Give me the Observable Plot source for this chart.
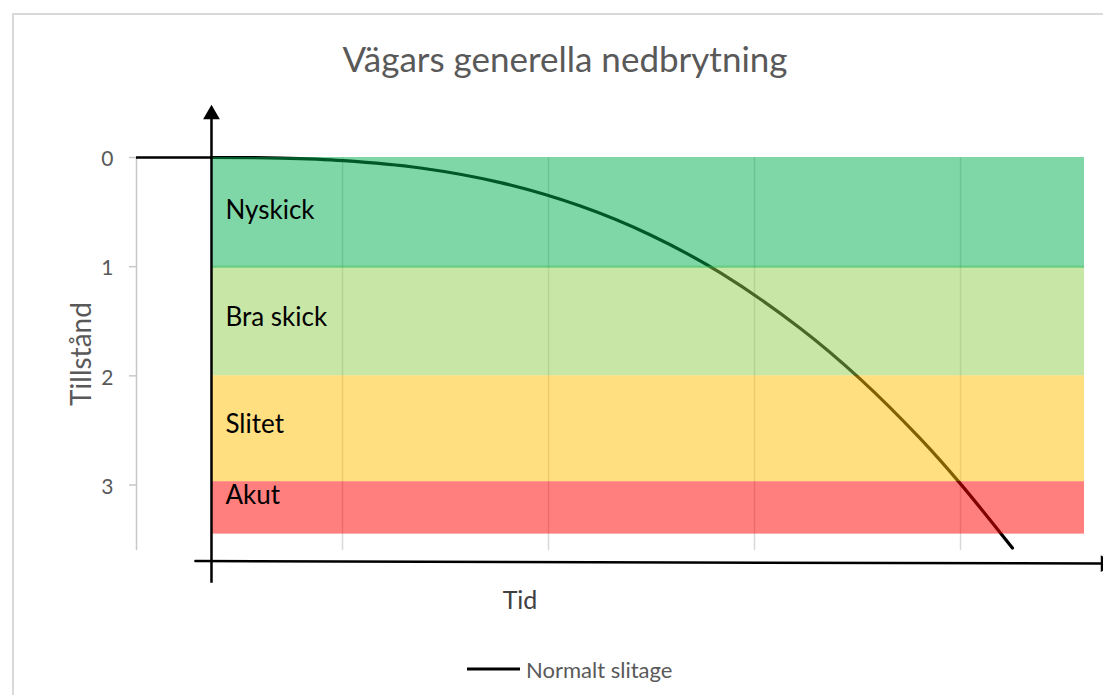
<!DOCTYPE html>
<html>
<head>
<meta charset="utf-8">
<script src="https://cdn.jsdelivr.net/npm/d3@7"></script>
<script src="https://cdn.jsdelivr.net/npm/@observablehq/plot@0.6"></script>
<style>
  html, body { margin: 0; padding: 0; background: #fff; overflow: hidden; }
  #wrap { position: relative; width: 1103px; height: 695px; overflow: hidden; font-family: Lato, "Open Sans", sans-serif; }
  #frame { position: absolute; left: 12px; top: 13px; width: 1200px; height: 800px; border: 2px solid #d9d9d9; box-sizing: border-box; }
  #chart { position: absolute; left: 0; top: 0; }
  .lbl { position: absolute; white-space: nowrap; }
  #title { left: 0; width: 1130px; top: 58px; transform: translateY(-50%); text-align: center; font-size: 35px; color: #595959; }
  #ytitle { left: 80px; top: 354px; transform: translate(-50%, -50%) rotate(-90deg); font-size: 28px; color: #595959; }
  #xtitle { left: 520px; top: 599px; transform: translate(-50%, -50%); font-size: 25px; color: #404040; }
  #legend { left: 467px; top: 669px; transform: translateY(-50%); font-size: 22px; color: #595959; display: flex; align-items: center; }
  #legend span.sw { display: inline-block; width: 53px; height: 3px; background: #000; margin-right: 6px; }
</style>
</head>
<body>
<div id="wrap">
  <div id="frame"></div>
  <div id="chart"></div>
  <div class="lbl" id="title">Vägars generella nedbrytning</div>
  <div class="lbl" id="ytitle">Tillstånd</div>
  <div class="lbl" id="xtitle">Tid</div>
  <div class="lbl" id="legend"><span class="sw"></span>Normalt slitage</div>
</div>
<script>
// ---- data ----
const yTicks = [0, 1, 2, 3];
const gridX = [1, 2, 3, 4];

const bandNames  = ["Nyskick", "Bra skick", "Slitet", "Akut"];
const bandTop    = [0, 1, 2, 2.97];
const bandBottom = [1, 2, 2.97, 3.45];
const bandColors = ["#00B050", "#92D050", "#FFC000", "#FF0000"];
const bandLabelY = [0.49, 1.47, 2.45, 3.10];

// "Normalt slitage" curve (time, condition)
const curveT = [0.364, 0.699, 1.005, 1.379, 1.767, 2.155, 2.495, 2.835, 3.223, 3.515, 3.806, 4.000, 4.252];
const curveY = [0, 0.005, 0.028, 0.096, 0.230, 0.445, 0.710, 1.057, 1.566, 2.032, 2.578, 2.990, 3.578];

// drawn axes (arrows) and band extent, in data units
const originT = 0.364;
const bandEndT = 4.602;
const vArrow = {y1: 3.9, y2: -0.44};
const hArrow = [{t: 0.286, y: 3.697}, {t: 4.68, y: 3.72}];

// ---- build ----
const bands = bandNames.map((name, i) => ({name, y1: bandTop[i], y2: bandBottom[i], color: bandColors[i], ly: bandLabelY[i]}));
const curve = curveT.map((t, i) => ({t, y: curveY[i]}));
const hEnd = hArrow[hArrow.length - 1];

const chart = Plot.plot({
  width: 1103,
  height: 695,
  marginLeft: 136,
  marginRight: 0,
  marginTop: 157,
  marginBottom: 145,
  style: {background: "transparent", fontFamily: "Lato, 'Open Sans', sans-serif", overflow: "visible"},
  x: {domain: [0, 4.694], axis: null},
  y: {domain: [0, 3.6], reverse: true, axis: null},
  marks: [
    Plot.ruleX(gridX, {y1: 0, y2: 3.6, stroke: "#d9d9d9", strokeWidth: 1.5}),
    Plot.ruleX([0], {y1: 0, y2: 3.6, stroke: "#c8c8c8", strokeWidth: 1.5}),
    Plot.axisY({ticks: yTicks, tickFormat: d => String(d), tickSize: 7, stroke: "#c8c8c8", fill: "none", label: null, strokeWidth: 1.5}),
    Plot.text(yTicks, {x: 0, y: d => d, text: d => String(d), textAnchor: "end", dx: -23, dy: 2, fontSize: 21, fill: "#595959"}),
    Plot.line(curve, {x: "t", y: "y", stroke: "#000", strokeWidth: 3.2, curve: "catmull-rom"}),
    Plot.rect(bands, {x1: originT, x2: bandEndT, y1: "y1", y2: "y2", fill: "color", fillOpacity: 0.5}),
    Plot.ruleY([1], {x1: originT, x2: bandEndT, stroke: "#00B050", strokeOpacity: 0.45, strokeWidth: 2}),
    Plot.ruleY([0], {x1: 0, x2: originT, stroke: "#000", strokeWidth: 2.5}),
    Plot.ruleX([originT], {y1: vArrow.y1, y2: vArrow.y2, stroke: "#000", strokeWidth: 2.5}),
    Plot.dot([{t: originT, y: vArrow.y2}], {x: "t", y: "y", symbol: "triangle2", r: 8, fill: "#000", dy: 5}),
    Plot.line(hArrow, {x: "t", y: "y", stroke: "#000", strokeWidth: 2.5}),
    Plot.dot([hEnd], {x: "t", y: "y", symbol: "triangle2", r: 8, fill: "#000", rotate: 90, dx: 5}),
    Plot.text(bands, {x: originT, y: "ly", text: "name", textAnchor: "start", dx: 14, fontSize: 26, fill: "#000"})
  ]
});
document.getElementById("chart").appendChild(chart);
</script>
</body>
</html>
